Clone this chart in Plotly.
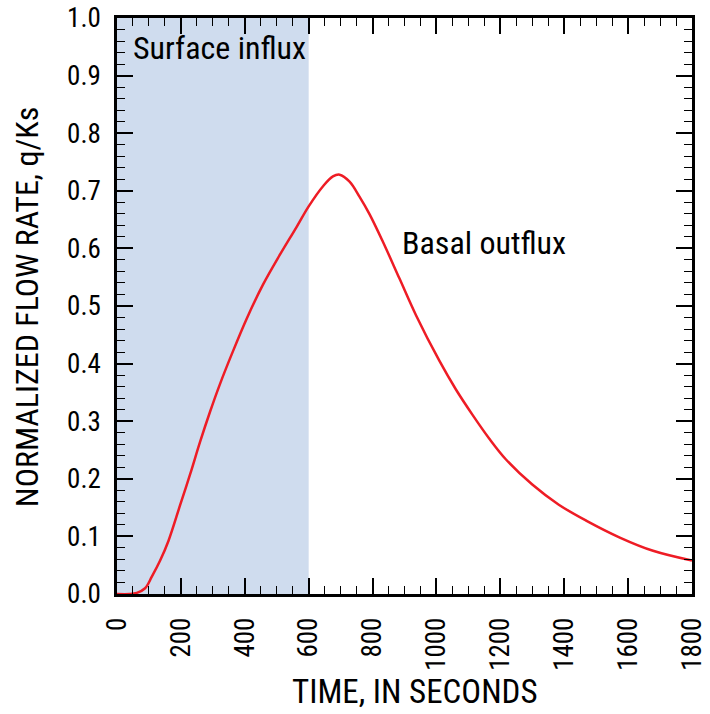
import plotly.graph_objects as go

time_s = [0, 40, 62, 88, 109, 135, 161, 198, 229, 260, 291, 322, 359, 406, 457, 510,
          562, 600, 645, 676, 697, 728, 759, 790, 832, 884, 936, 1009, 1061, 1113,
          1165, 1217, 1300, 1383, 1470, 1574, 1678, 1800]
flow = [0, 0, 0.002, 0.010, 0.030, 0.058, 0.092, 0.155, 0.208, 0.264, 0.316, 0.364,
        0.416, 0.478, 0.537, 0.589, 0.637, 0.673, 0.708, 0.725, 0.728, 0.716, 0.690,
        0.660, 0.612, 0.548, 0.484, 0.405, 0.355, 0.311, 0.270, 0.234, 0.190, 0.155,
        0.127, 0.098, 0.075, 0.058]
influx_start, influx_end = 0, 600

FONT = "Liberation Sans Narrow, Arial Narrow, Roboto Condensed, sans-serif"

fig = go.Figure()
fig.add_vrect(x0=influx_start, x1=influx_end, fillcolor="#CFDCEE", opacity=1,
              line_width=0, layer="below")
fig.add_trace(go.Scatter(x=time_s, y=flow, mode="lines",
                         line=dict(color="#EE1C25", width=2.5, shape="spline", smoothing=1.0),
                         showlegend=False, hoverinfo="skip"))

fig.add_annotation(x=0.025, y=0.948, xref="paper", yref="paper", text="Surface influx",
                   showarrow=False, xanchor="left", yanchor="middle",
                   font=dict(family=FONT, size=32, color="black"))
fig.add_annotation(x=0.493, y=0.61, xref="paper", yref="paper", text="Basal outflux",
                   showarrow=False, xanchor="left", yanchor="middle",
                   font=dict(family=FONT, size=32, color="black"))
# axis titles
fig.add_annotation(x=0.518, y=-0.170, xref="paper", yref="paper", text="TIME, IN SECONDS",
                   showarrow=False, xanchor="center", yanchor="middle",
                   font=dict(family=FONT, size=33, color="black"))
fig.add_annotation(x=-0.1565, y=0.498, xref="paper", yref="paper",
                   text="NORMALIZED FLOW RATE, q/Ks", textangle=-90,
                   showarrow=False, xanchor="center", yanchor="middle",
                   font=dict(family=FONT, size=32, color="black"))

axis_common = dict(showline=True, linecolor="black", linewidth=2.5, mirror="allticks",
                   ticks="inside", tickcolor="black", tickwidth=1.5, ticklen=16,
                   showgrid=False, zeroline=False, automargin=False, layer="above traces",
                   ticklabeloverflow="allow",
                   tickfont=dict(family=FONT, size=27, color="black"))

fig.update_xaxes(range=[0, 1800], tickmode="linear", tick0=0, dtick=200, tickangle=-90,
                 ticklabelstandoff=10,
                 minor=dict(ticks="inside", dtick=50, ticklen=8, tickcolor="black",
                            tickwidth=1.2, showgrid=False),
                 **axis_common)
fig.update_yaxes(range=[0, 1.00001], tickmode="linear", tick0=0, dtick=0.1, tickformat=".1f",
                 ticklabelstandoff=8,
                 minor=dict(ticks="inside", dtick=0.02, ticklen=8, tickcolor="black",
                            tickwidth=1.2, showgrid=False),
                 **axis_common)

fig.update_layout(width=710, height=714, margin=dict(l=117, r=18, t=18, b=120),
                  plot_bgcolor="white", paper_bgcolor="white",
                  font=dict(family=FONT, color="black"))

# remove the browser's default 8 px body margin so the figure fills the window exactly
fig.write_html("out.html", config={"displayModeBar": False},
               post_script="document.body.style.margin='0';document.body.style.overflow='hidden';")
